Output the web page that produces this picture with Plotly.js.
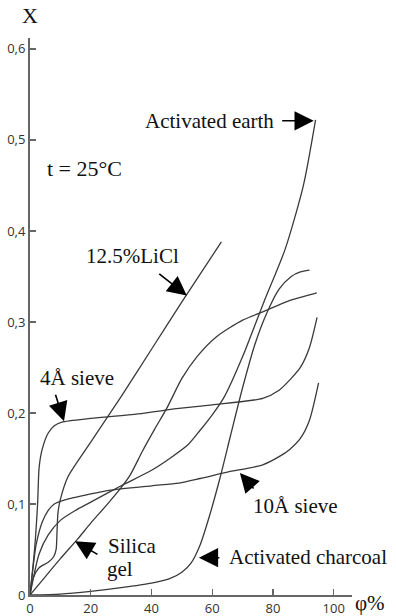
<!DOCTYPE html>
<html><head><meta charset="utf-8">
<script src="https://cdn.plot.ly/plotly-3.0.1.min.js"></script>
<style>html,body{margin:0;padding:0;background:#fff}#chart{width:396px;height:616px}</style>
</head><body><div id="chart"></div>
<script>
// Relative humidity φ (%) and water uptake X for each adsorbent
const earthX   = [0, 3, 6, 10, 15, 20, 30, 40, 46, 52, 56, 60, 64, 70, 77, 84, 90, 94];
const earthY   = [0, 0.045, 0.066, 0.082, 0.093, 0.102, 0.12, 0.137, 0.15, 0.165, 0.181, 0.198, 0.218, 0.262, 0.322, 0.38, 0.45, 0.522];

const liclX    = [0, 1, 3, 6, 7.8, 8.6, 8.9, 9.2, 10, 12.5, 20, 30, 40, 50, 63];
const liclY    = [0, 0.018, 0.03, 0.036, 0.042, 0.05, 0.07, 0.09, 0.105, 0.13, 0.168, 0.218, 0.27, 0.322, 0.388];

const sieve4X  = [0, 1.5, 2.5, 3, 4, 6, 8, 10.5, 20, 35.5, 49, 60, 76.6, 82, 86, 89, 92, 94.5];
const sieve4Y  = [0, 0.05, 0.1, 0.14, 0.16, 0.178, 0.186, 0.19, 0.194, 0.199, 0.205, 0.209, 0.216, 0.225, 0.238, 0.25, 0.272, 0.305];

const sieve10X = [0, 1, 2, 4, 6, 8, 11, 20, 26, 40, 49, 56, 65, 76.6, 82, 85.5, 89, 92, 95];
const sieve10Y = [0, 0.03, 0.055, 0.08, 0.093, 0.1, 0.104, 0.111, 0.115, 0.12, 0.123, 0.128, 0.135, 0.143, 0.152, 0.16, 0.172, 0.192, 0.233];

const silicaX  = [0, 5, 10, 15.8, 20, 25, 30, 33, 37, 41, 45, 50, 55, 61.5, 70, 76.6, 85, 94.4];
const silicaY  = [0, 0.02, 0.04, 0.062, 0.079, 0.098, 0.118, 0.132, 0.158, 0.182, 0.205, 0.238, 0.262, 0.284, 0.302, 0.311, 0.323, 0.332];

const charX    = [0, 10, 20, 30, 40, 46, 50, 53, 56, 59, 62.5, 66, 70, 74, 78, 82, 86, 89, 92];
const charY    = [0, 0.001, 0.004, 0.008, 0.013, 0.018, 0.025, 0.035, 0.055, 0.086, 0.128, 0.175, 0.228, 0.275, 0.31, 0.336, 0.35, 0.355, 0.357];

const xTickVals  = [0, 20, 40, 60, 80, 100];
const xTickText  = ['0', '20', '40', '60', '80', '100'];
const yTickVals  = [0, 0.1, 0.2, 0.3, 0.4, 0.5, 0.6];
const yTickText  = ['0', '0,1', '0,2', '0,3', '0,4', '0,5', '0,6'];

const curveColor = '#3a3a3a';
function curve(x, y, name) {
  return {x: x, y: y, name: name, mode: 'lines', type: 'scatter',
          line: {color: curveColor, width: 1.3, shape: 'spline', smoothing: 0.7},
          hoverinfo: 'skip'};
}
const traces = [
  curve(earthX, earthY, 'Activated earth'),
  curve(liclX, liclY, '12.5%LiCl'),
  curve(sieve4X, sieve4Y, '4Å sieve'),
  curve(sieve10X, sieve10Y, '10Å sieve'),
  curve(silicaX, silicaY, 'Silica gel'),
  curve(charX, charY, 'Activated charcoal')
];

const serif = 'Liberation Serif, Times New Roman, serif';
const tf = {family: serif, size: 21, color: '#111'};
function label(x, y, text, extra) {
  return Object.assign({x: x, y: y, xref: 'x', yref: 'y', text: text, showarrow: false, font: tf,
                        xanchor: 'center', yanchor: 'middle'}, extra || {});
}
function arrow(x, y, ax, ay) {
  return {x: x, y: y, xref: 'x', yref: 'y', text: '', showarrow: true, ax: ax, ay: ay,
          arrowhead: 2, arrowsize: 2.4, arrowwidth: 1.6, arrowcolor: '#000', standoff: 0, startstandoff: 0};
}

const annotations = [
  label(59.2, 0.521, 'Activated earth'),
  arrow(93.4, 0.521, -33, 0),
  label(18.1, 0.469, 't = 25°C', {font: {family: serif, size: 22, color: '#111'}}),
  label(33.9, 0.3725, '12.5%LiCl'),
  arrow(51.6, 0.329, -29, -23),
  label(15.5, 0.238, '4Å sieve'),
  arrow(11.2, 0.191, -9, -28),
  label(33.6, 0.054, 'Silica'),
  label(29.6, 0.029, 'gel'),
  arrow(14.8, 0.059, 24, 14),
  label(87.5, 0.098, '10Å sieve'),
  arrow(69.1, 0.134, 15, 17),
  label(91.4, 0.042, 'Activated charcoal'),
  arrow(55.6, 0.041, 22, 0),
  {xref: 'paper', yref: 'paper', x: 1.056, y: -0.0135, xanchor: 'center', yanchor: 'middle',
   text: 'φ%', showarrow: false, font: {family: serif, size: 21, color: '#111'}},
  {xref: 'paper', yref: 'paper', x: 0.0, y: 1.04, xanchor: 'center', yanchor: 'middle',
   text: 'X', showarrow: false, font: {family: serif, size: 22, color: '#111'}}
];

const axisCommon = {showgrid: false, zeroline: false, showline: true, linecolor: '#666', linewidth: 2,
  ticks: 'inside', ticklen: 6, tickwidth: 1.3, tickcolor: '#666',
  tickfont: {family: 'Open Sans, sans-serif', size: 13, color: '#333'}, fixedrange: true};

const layout = {
  width: 396, height: 616,
  margin: {l: 30, r: 44, t: 38, b: 21, pad: 0},
  paper_bgcolor: '#fff', plot_bgcolor: '#fff',
  showlegend: false,
  xaxis: Object.assign({}, axisCommon, {range: [0, 106], tickvals: xTickVals, ticktext: xTickText}),
  yaxis: Object.assign({}, axisCommon, {range: [0, 0.612], tickvals: yTickVals, ticktext: yTickText}),
  annotations: annotations
};

Plotly.newPlot('chart', traces, layout, {staticPlot: true, displayModeBar: false});
</script>
</body></html>
